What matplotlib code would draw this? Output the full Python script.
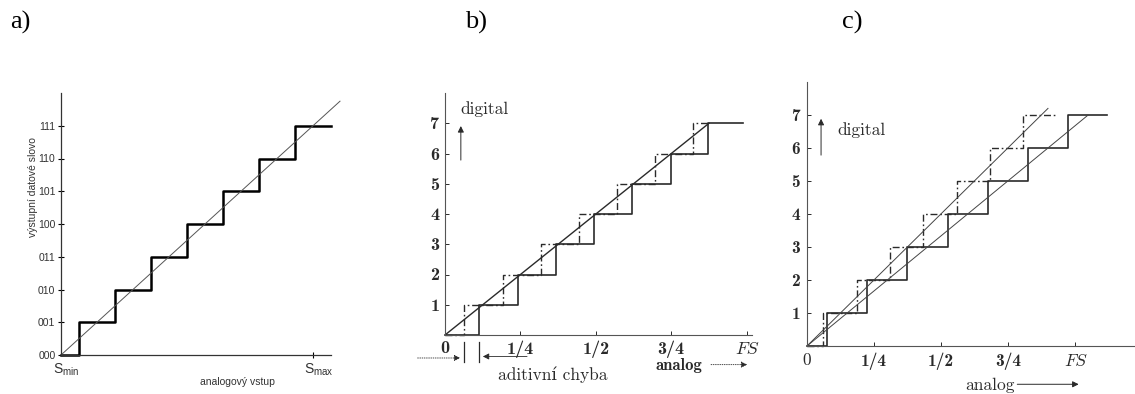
import matplotlib
matplotlib.use('Agg')
import matplotlib.pyplot as plt

plt.rcParams['mathtext.fontset'] = 'cm'

# --- data (x in LSB units, levels 0..7) ---
a_codes = ['000', '001', '010', '011', '100', '101', '110', '111']
a_steps = [0.5, 1.5, 2.5, 3.5, 4.5, 5.5, 6.5]
a_end = 7.5
a_diag = [0, 7.75]
a_smax = 7.0

b_ideal = [0.5, 1.54, 2.54, 3.55, 4.56, 5.57, 6.58]
b_ideal_end = 7.0
b_offset = [0.9, 1.93, 2.94, 3.96, 4.96, 5.99, 6.98]
b_offset_end = 7.9
b_diag = [0, 7.0]

c_ideal = [0.48, 1.49, 2.48, 3.47, 4.47, 5.47, 6.46]
c_ideal_end = 7.46
c_gain = [0.6, 1.8, 3.0, 4.2, 5.4, 6.6, 7.8]
c_gain_end = 8.95
c_line1_x = [0, 7.2]
c_line1_y = [0, 7.2]
c_line2_x = [0, 8.4]
c_line2_y = [0, 7.0]

fs_ticks = [0, 2, 4, 6, 8]
fs_labels = ['0', '1/4', '1/2', '3/4', 'FS']

W, H = 1135, 394
fig = plt.figure(figsize=(W / 100, H / 100), dpi=100)


def px_axes(l, r, b, t):
    return fig.add_axes([l / W, 1 - b / H, (r - l) / W, (b - t) / H])


def stair(steps, end):
    xs = [0] + list(steps) + [end]
    ys = list(range(len(steps) + 1)) + [len(steps)]
    return xs, ys


def clean(ax):
    for s in ['top', 'right']:
        ax.spines[s].set_visible(False)


def cm_ticks(ax, size):
    # bold computer-modern numbers, italic FS
    for lab in ax.get_xticklabels() + ax.get_yticklabels():
        if lab.get_text() == 'FS':
            lab.set_fontfamily('cmmi10')
        else:
            lab.set_fontfamily('cmb10')
        lab.set_fontsize(size)
        lab.set_color(ink)


ink = '#2a2a2a'
dashdot = (0, (5, 2, 1.2, 2))
serif = ['cmr10', 'DejaVu Serif']

# ---------------- a) ----------------
ax = px_axes(61, 331, 355, 93)
clean(ax)
ax.set_xlim(0, 7.5)
ax.set_ylim(0, 8)
x, y = stair(a_steps, a_end)
ax.step(x, y, where='post', color='black', lw=1.8, clip_on=False)
ax.plot(a_diag, a_diag, color='#555555', lw=0.7, clip_on=False)
ax.set_yticks(range(8))
ax.set_yticklabels(a_codes, fontsize=7.5, color='#333333', fontname='Liberation Sans')
ax.tick_params(axis='y', direction='inout', length=4, width=0.8, pad=2)
ax.set_xticks([a_smax])
ax.set_xticklabels([''])
ax.tick_params(axis='x', direction='inout', length=4, width=0.8)
for s in ['left', 'bottom']:
    ax.spines[s].set_color('#333333')
    ax.spines[s].set_linewidth(0.9)
ax.text(0.15, -0.45, r'$\mathregular{S_{min}}$', ha='center', va='center', fontsize=10,
        color='#333333', fontname='Liberation Sans')
ax.text(a_smax + 0.15, -0.45, r'$\mathregular{S_{max}}$', ha='center', va='center', fontsize=10,
        color='#333333', fontname='Liberation Sans')
ax.text(4.9, -0.83, 'analogový vstup', ha='center', va='center', fontsize=7.5,
        color='#333333', fontname='Liberation Sans')
fig.text(33 / W, 1 - 187 / H, 'výstupní datové slovo', rotation=90, ha='center', va='center',
         fontsize=7.5, color='#333333', fontname='Liberation Sans')

# ---------------- b) ----------------
ax = px_axes(445, 752, 335, 93)
clean(ax)
ax.set_xlim(0, 8.14)
ax.set_ylim(0, 8)
x, y = stair(b_ideal, b_ideal_end)
ax.step(x, y, where='post', color=ink, lw=1.0, ls=dashdot, clip_on=False)
x, y = stair(b_offset, b_offset_end)
ax.step(x, y, where='post', color=ink, lw=1.2, clip_on=False)
ax.plot(b_diag, b_diag, color=ink, lw=1.0)
ax.set_yticks(range(1, 8))
ax.set_yticklabels([str(v) for v in range(1, 8)])
ax.set_xticks(fs_ticks)
ax.set_xticklabels(fs_labels)
cm_ticks(ax, 13)
ax.tick_params(direction='in', length=3, width=0.7, colors=ink, pad=4)
for s in ['left', 'bottom']:
    ax.spines[s].set_color('#555555')
    ax.spines[s].set_linewidth(0.8)
ax.text(0.4, 7.47, 'digital', family=serif, fontsize=12.5, ha='left', va='center', color=ink)
ax.annotate('', xy=(0.42, 7.0), xytext=(0.42, 5.69), annotation_clip=False,
            arrowprops=dict(arrowstyle='-|>', color=ink, lw=0.7, mutation_scale=9))
ax.annotate('', xy=(0.48, -0.76), xytext=(-0.8, -0.76), annotation_clip=False,
            arrowprops=dict(arrowstyle='-|>', color=ink, lw=0.6, ls=':', mutation_scale=9))
ax.annotate('', xy=(0.93, -0.71), xytext=(2.25, -0.71), annotation_clip=False,
            arrowprops=dict(arrowstyle='-|>', color=ink, lw=0.6, mutation_scale=9))
ax.plot([b_ideal[0], b_ideal[0]], [-0.23, -0.89], color=ink, lw=0.9, clip_on=False)
ax.plot([b_offset[0], b_offset[0]], [-0.23, -0.89], color=ink, lw=0.9, clip_on=False)
ax.text(2.86, -1.32, 'aditivní chyba', family=serif, fontsize=12.5, ha='center', va='center', color=ink)
ax.text(6.2, -1.0, 'analog', family=['cmb10', 'DejaVu Serif'], fontsize=12, ha='center',
        va='center', color=ink)
ax.annotate('', xy=(8.09, -0.98), xytext=(6.98, -0.98), annotation_clip=False,
            arrowprops=dict(arrowstyle='-|>', color=ink, lw=0.6, ls=':', mutation_scale=9))

# ---------------- c) ----------------
ax = px_axes(807, 1135, 346, 82)
clean(ax)
ax.set_xlim(0, 9.8)
ax.set_ylim(0, 8)
x, y = stair(c_ideal, c_ideal_end)
ax.step(x, y, where='post', color=ink, lw=1.0, ls=dashdot, clip_on=False)
x, y = stair(c_gain, c_gain_end)
ax.step(x, y, where='post', color=ink, lw=1.2, clip_on=False)
ax.plot(c_line1_x, c_line1_y, color='#444444', lw=0.7)
ax.plot(c_line2_x, c_line2_y, color='#444444', lw=0.7)
ax.set_yticks(range(1, 8))
ax.set_yticklabels([str(v) for v in range(1, 8)])
ax.set_xticks(fs_ticks)
ax.set_xticklabels(fs_labels)
cm_ticks(ax, 12.5)
ax.get_xticklabels()[0].set_fontfamily('cmr10')
ax.tick_params(direction='in', length=3, width=0.7, colors=ink, pad=5)
for s in ['left', 'bottom']:
    ax.spines[s].set_color('#555555')
    ax.spines[s].set_linewidth(0.8)
ax.text(0.9, 6.55, 'digital', family=serif, fontsize=12.5, ha='left', va='center', color=ink)
ax.annotate('', xy=(0.42, 6.97), xytext=(0.42, 5.7), annotation_clip=False,
            arrowprops=dict(arrowstyle='-|>', color=ink, lw=0.7, mutation_scale=9))
ax.text(5.46, -1.18, 'analog', family=serif, fontsize=12.5, ha='center', va='center', color=ink)
ax.annotate('', xy=(8.2, -1.16), xytext=(6.2, -1.16), annotation_clip=False,
            arrowprops=dict(arrowstyle='-|>', color=ink, lw=0.7, mutation_scale=9))

# panel letters
for lx, lab in [(10, 'a)'), (465, 'b)'), (842, 'c)')]:
    fig.text(lx / W, 1 - 22 / H, lab, fontsize=19, fontname='Liberation Serif', ha='left', va='center')

fig.savefig('out.png', dpi=100)
